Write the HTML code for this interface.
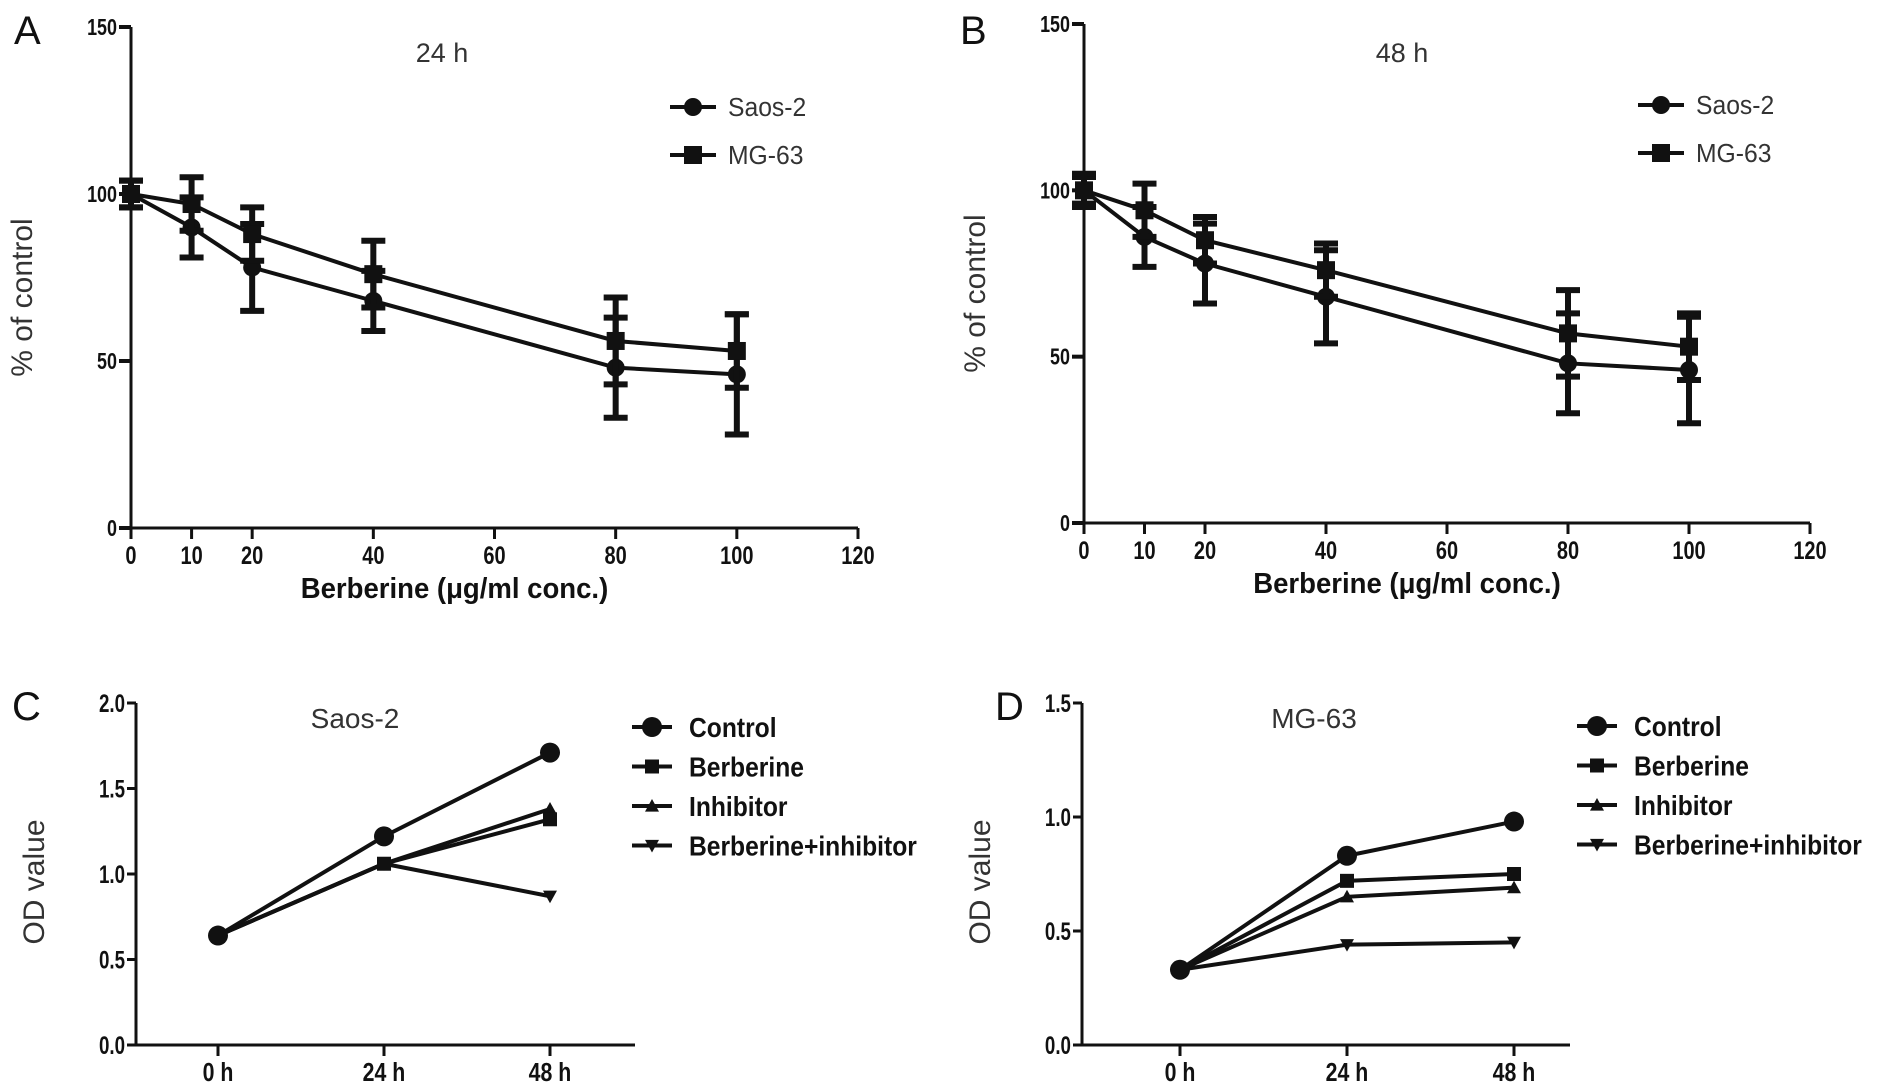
<!DOCTYPE html>
<html><head><meta charset="utf-8"><style>
html,body{margin:0;padding:0;background:#fff;}
svg{display:block;font-family:"Liberation Sans",sans-serif;}
</style></head><body>
<svg id="fig" width="1890" height="1092" viewBox="0 0 1890 1092"></svg>
<script>
// ---- Panel A data (24 h) ----
const concA = [0, 10, 20, 40, 80, 100];
const saosA = [100, 90, 78, 68, 48, 46];
const saosA_err = [4, 9, 13, 9, 15, 18];
const mgA = [100, 97, 88, 76, 56, 53];
const mgA_err = [4, 8, 8, 10, 13, 11];
// ---- Panel B data (48 h) ----
const concB = [0, 10, 20, 40, 80, 100];
const saosB = [100, 86, 78, 68, 48, 46];
const saosB_err = [4, 9, 12, 14, 15, 16];
const mgB = [100, 94, 85, 76, 57, 53];
const mgB_err = [5, 8, 7, 8, 13, 10];
const xTicksAB = [0, 10, 20, 40, 60, 80, 100, 120];
const yTicksAB = [0, 50, 100, 150];
// ---- Panel C data (Saos-2) ----
const timeCats = ["0 h", "24 h", "48 h"];
const cControl = [0.64, 1.22, 1.71];
const cBerb = [0.64, 1.06, 1.32];
const cInhib = [0.64, 1.06, 1.38];
const cBoth = [0.64, 1.06, 0.87];
const yTicksC = [0.0, 0.5, 1.0, 1.5, 2.0];
// ---- Panel D data (MG-63) ----
const dControl = [0.33, 0.83, 0.98];
const dBerb = [0.33, 0.72, 0.75];
const dInhib = [0.33, 0.65, 0.69];
const dBoth = [0.33, 0.44, 0.45];
const yTicksD = [0.0, 0.5, 1.0, 1.5];

const NS = "http://www.w3.org/2000/svg";
const svg = document.getElementById("fig");
function mk(tag, attrs, parent) {
  const e = document.createElementNS(NS, tag);
  for (const k in attrs) e.setAttribute(k, attrs[k]);
  (parent || svg).appendChild(e);
  return e;
}
function sx(x, s) { return `translate(${x},0) scale(${s},1) translate(${-x},0)`; }
function txt(s, x, y, size, weight, anchor, parent, extra) {
  const t = mk("text", Object.assign({x: x, y: y, "font-size": size, "font-weight": weight || "normal", "text-anchor": anchor || "middle", fill: "#111"}, extra || {}), parent);
  t.textContent = s;
  return t;
}
function marker(type, x, y, r, g) {
  let m;
  if (type === "circle") m = mk("circle", {cx: x, cy: y, r: r, fill: "#111"}, g);
  else if (type === "square") m = mk("rect", {x: x - r, y: y - r, width: 2 * r, height: 2 * r, fill: "#111"}, g);
  else if (type === "up") m = mk("polygon", {points: `${x},${y - r} ${x - r},${y + r * 0.8} ${x + r},${y + r * 0.8}`, fill: "#111"}, g);
  else m = mk("polygon", {points: `${x},${y + r} ${x - r},${y - r * 0.8} ${x + r},${y - r * 0.8}`, fill: "#111"}, g);
  
  
  return m;
}

function panelAB(o) {
  const g = mk("g", {});
  
  
  const X = v => o.x0 + (v / 120) * (o.x1 - o.x0);
  const Y = v => o.y0 - (v / 150) * (o.y0 - o.y1);
  const ya = mk("line", {x1: o.x0, y1: o.y1, x2: o.x0, y2: o.y0, stroke: "#111", "stroke-width": 3}, g);
   
  const xa = mk("line", {x1: o.x0 - 10, y1: o.y0, x2: o.x1, y2: o.y0, stroke: "#111", "stroke-width": 3}, g);
   
  yTicksAB.forEach(v => {
    mk("line", {x1: o.x0 - 12, y1: Y(v), x2: o.x0, y2: Y(v), stroke: "#111", "stroke-width": 4}, g);
    const t = txt(String(v), o.x0 - 14, Y(v) + 8, 23, "bold", "end", g, {transform: sx(o.x0 - 14, 0.78)});
     
  });
  xTicksAB.forEach(v => {
    mk("line", {x1: X(v), y1: o.y0, x2: X(v), y2: o.y0 + 11, stroke: "#111", "stroke-width": 3}, g);
    const t = txt(String(v), X(v), o.y0 + 36, 25, "bold", "middle", g, {transform: sx(X(v), 0.8)});
     
  });
  const cx = (o.x0 + o.x1) / 2 - 40;
  const xt = txt("Berberine (μg/ml conc.)", cx, o.y0 + 70, 29, "bold", "middle", g, {transform: sx(cx, 0.95)});
   
  const yt = txt("% of control", 0, 0, 30, "normal", "middle", g, {transform: `translate(${o.x0 - 99},${(o.y0 + o.y1) / 2 + 20}) rotate(-90)`, fill: "#333"});
   
  const tt = txt(o.title, o.titleX, 62, 27, "normal", "middle", g, {fill: "#333"});
   
  const lab = txt(o.letter, o.letterX, 44, 40, "normal", "start", g);
   
  const series = [
    {vals: o.saos, err: o.saosErr, m: "circle", name: "Saos-2"},
    {vals: o.mg, err: o.mgErr, m: "square", name: "MG-63"}
  ];
  series.forEach((s, si) => {
    const sg = mk("g", {}, g);
    
    
    const pts = o.conc.map((c, i) => `${X(c)},${Y(s.vals[i])}`).join(" ");
    mk("polyline", {points: pts, fill: "none", stroke: "#111", "stroke-width": 4}, sg);
    o.conc.forEach((c, i) => {
      const x = X(c), yh = Y(s.vals[i] + s.err[i]), yl = Y(s.vals[i] - s.err[i]);
      const eb = mk("path", {d: `M${x},${yh}V${yl}M${x - 12},${yh}H${x + 12}M${x - 12},${yl}H${x + 12}`, stroke: "#111", "stroke-width": 6, fill: "none"}, sg);
       
      marker(s.m, x, Y(s.vals[i]), 9, sg);
    });
    const ly = o.legY + si * 48;
    const lg = mk("g", {}, g);
    
    
    mk("line", {x1: o.legX, y1: ly, x2: o.legX + 46, y2: ly, stroke: "#111", "stroke-width": 4}, lg);
    marker(s.m, o.legX + 23, ly, 9, lg);
    txt(s.name, o.legX + 58, ly + 9, 26, "normal", "start", lg, {fill: "#333", transform: sx(o.legX + 58, 0.95)});
  });
}

function panelCD(o) {
  const g = mk("g", {});
  
  
  const ymax = o.yTicks[o.yTicks.length - 1];
  const Y = v => o.y0 - (v / ymax) * (o.y0 - o.y1);
  const X = i => o.cx[0] + i * (o.cx[1] - o.cx[0]);
  const ya = mk("line", {x1: o.x0, y1: o.y1, x2: o.x0, y2: o.y0, stroke: "#111", "stroke-width": 3}, g);
   
  const xa = mk("line", {x1: o.x0 - 9, y1: o.y0, x2: o.x1, y2: o.y0, stroke: "#111", "stroke-width": 3}, g);
   
  o.yTicks.forEach(v => {
    mk("line", {x1: o.x0 - 9, y1: Y(v), x2: o.x0, y2: Y(v), stroke: "#111", "stroke-width": 3}, g);
    const t = txt(v.toFixed(1), o.x0 - 11, Y(v) + 9, 25, "bold", "end", g, {transform: sx(o.x0 - 11, 0.75)});
     
  });
  timeCats.forEach((c, i) => {
    mk("line", {x1: X(i), y1: o.y0, x2: X(i), y2: o.y0 + 11, stroke: "#111", "stroke-width": 3}, g);
    const t = txt(c, X(i), o.y0 + 36, 26, "bold", "middle", g, {transform: sx(X(i), 0.82)});
     
  });
  const yt = txt("OD value", 0, 0, 30, "normal", "middle", g, {transform: `translate(${o.x0 - 92},${(o.y0 + o.y1) / 2 + 8}) rotate(-90)`, fill: "#333"});
   
  const tt = txt(o.title, o.titleX, 728, 28, "normal", "middle", g, {fill: "#333"});
   
  const lab = txt(o.letter, o.letterX, 720, 40, "normal", "start", g);
   
  const series = [
    {vals: o.control, m: "circle", r: 10, name: "Control"},
    {vals: o.berb, m: "square", r: 7, name: "Berberine"},
    {vals: o.inhib, m: "up", r: 7, name: "Inhibitor"},
    {vals: o.both, m: "down", r: 7, name: "Berberine+inhibitor"}
  ];
  series.slice().reverse().forEach(s => {
    const sg = mk("g", {}, g);
    
    
    const pts = s.vals.map((v, i) => `${X(i)},${Y(v)}`).join(" ");
    mk("polyline", {points: pts, fill: "none", stroke: "#111", "stroke-width": 4}, sg);
    s.vals.forEach((v, i) => marker(s.m, X(i), Y(v), s.r, sg));
  });
  series.forEach((s, si) => {
    const ly = o.legY + si * 39.5;
    const lg = mk("g", {}, g);
    
    
    mk("line", {x1: o.legX, y1: ly, x2: o.legX + 40, y2: ly, stroke: "#111", "stroke-width": 4}, lg);
    marker(s.m, o.legX + 20, ly, s.r, lg);
    txt(s.name, o.legX + 57, ly + 10, 28, "bold", "start", lg, {transform: sx(o.legX + 57, 0.88)});
  });
}

panelAB({name: "panel-a-chart", x0: 131, x1: 858, y0: 528, y1: 27, conc: concA,
  saos: saosA, saosErr: saosA_err, mg: mgA, mgErr: mgA_err,
  title: "24 h", titleX: 442, letter: "A", letterX: 14, legX: 670, legY: 107});
panelAB({name: "panel-b-chart", x0: 1084, x1: 1810, y0: 523, y1: 24, conc: concB,
  saos: saosB, saosErr: saosB_err, mg: mgB, mgErr: mgB_err,
  title: "48 h", titleX: 1402, letter: "B", letterX: 960, legX: 1638, legY: 105});
panelCD({name: "panel-c-chart", x0: 136, x1: 635, y0: 1045, y1: 703, cx: [218, 384],
  yTicks: yTicksC, control: cControl, berb: cBerb, inhib: cInhib, both: cBoth,
  title: "Saos-2", titleX: 355, letter: "C", letterX: 12, legX: 632, legY: 727});
panelCD({name: "panel-d-chart", x0: 1082, x1: 1570, y0: 1045, y1: 703, cx: [1180, 1347],
  yTicks: yTicksD, control: dControl, berb: dBerb, inhib: dInhib, both: dBoth,
  title: "MG-63", titleX: 1314, letter: "D", letterX: 995, legX: 1577, legY: 726});
</script>
</body></html>
